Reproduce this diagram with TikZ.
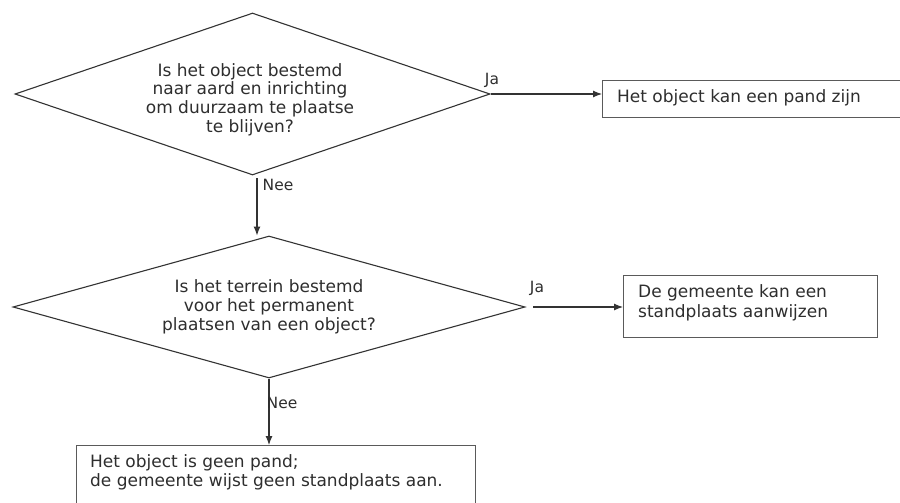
\documentclass[tikz,border=0pt]{standalone}
\usepackage{fontspec}
\setmainfont{DejaVu Sans}
\usetikzlibrary{shapes.geometric,arrows.meta}
\definecolor{lc}{HTML}{333333}
\definecolor{bc}{HTML}{5A5A5A}
\definecolor{tc}{HTML}{2E2E2E}
\begin{document}
\begin{tikzpicture}[x=1pt,y=-1pt,
  dia/.style={diamond, draw=lc, line width=1.1pt, inner sep=0pt, shape aspect=3},
  boxnode/.style={rectangle, draw=bc, line width=1.4pt, inner sep=0pt, anchor=north west},
  qtext/.style={font=\fontsize{17}{18.7}\selectfont, text=tc, inner sep=0pt, align=center},
  btext/.style={font=\fontsize{17}{19.8}\selectfont, text=tc, inner sep=0pt, align=left, anchor=north west},
  lbl/.style={font=\fontsize{15.5}{17}\selectfont, text=tc, inner sep=0pt},
  arr/.style={draw=lc, line width=1.1pt, -{Latex[length=9pt,width=7pt]}}]
\useasboundingbox (0,0) rectangle (900,503);
\clip (0,0) rectangle (900,503);
\fill[white] (0,0) rectangle (900,503);

% decision 1
\node[dia, minimum width=475pt, minimum height=162pt] (d1) at (252.5,94) {};
\node[qtext] (t1) at (250,99.5) {Is het object bestemd\\naar aard en inrichting\\om duurzaam te plaatse\\te blijven?};

% box 1
\node[boxnode, minimum width=330pt, minimum height=37pt] (b1) at (602,80) {};
\node[btext, anchor=west] (bt1) at (617,97.5) {Het object kan een pand zijn};

% decision 2
\node[dia, minimum width=512pt, minimum height=142pt] (d2) at (269,307) {};
\node[qtext] (t2) at (269,307) {Is het terrein bestemd\\voor het permanent\\plaatsen van een object?};

% box 2
\node[boxnode, minimum width=254pt, minimum height=62pt] (b2) at (623,275) {};
\node[btext] (bt2) at (638,284.5) {De gemeente kan een\\standplaats aanwijzen};

% box 3
\node[boxnode, minimum width=399pt, minimum height=80pt] (b3) at (76,445) {};
\node[btext] (bt3) at (90,454) {Het object is geen pand;\\de gemeente wijst geen standplaats aan.};

% connectors
\draw[arr] (d1.east) -- (d1.east -| b1.west);
\node[lbl] (ja1) at (492,80) {Ja};

\coordinate (n1a) at (257,178);
\coordinate (n1b) at (257,235.5);
\draw[arr] (n1a) -- (n1b);
\node[lbl] (nee1) at (278,185) {Nee};

\coordinate (j2a) at (533,307);
\draw[arr] (j2a) -- (j2a -| b2.west);
\node[lbl] (ja2) at (537,288) {Ja};

\draw[arr] (d2.south) -- (d2.south |- b3.north);
\node[lbl] (nee2) at (282,403) {Nee};
\end{tikzpicture}
\end{document}
